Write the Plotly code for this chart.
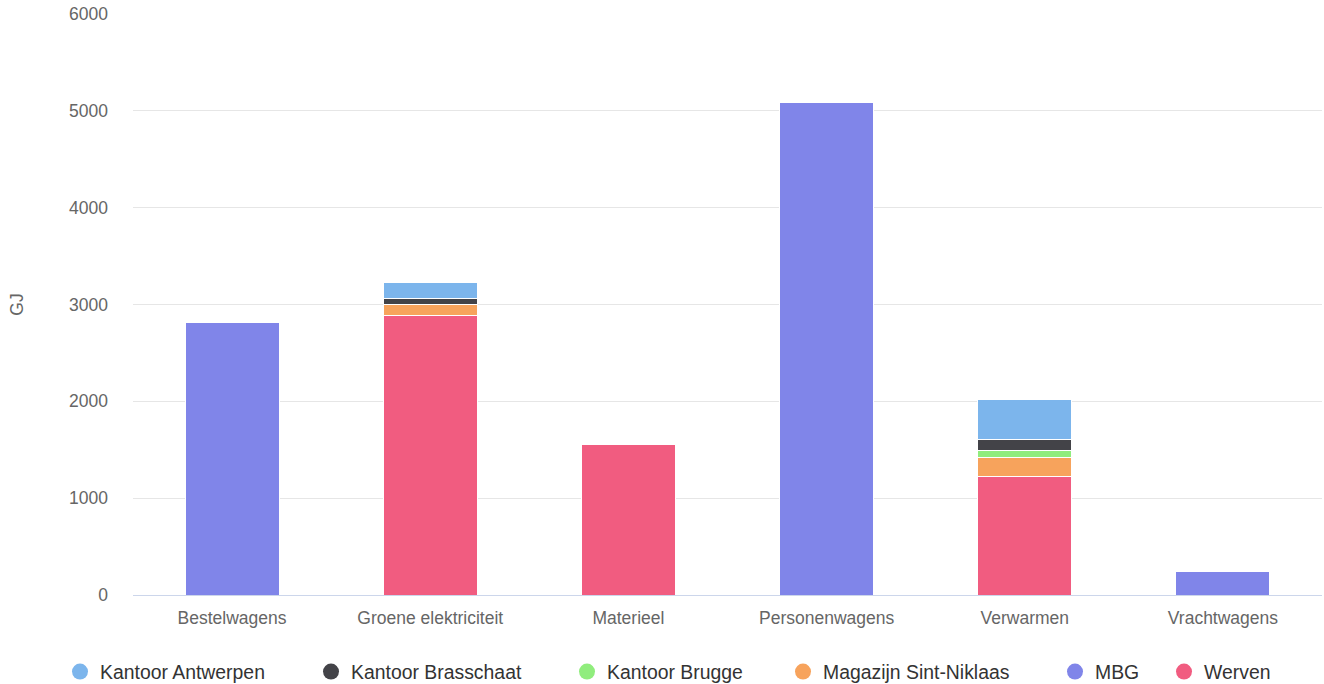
import plotly.graph_objects as go

categories = ["Bestelwagens", "Groene elektriciteit", "Materieel", "Personenwagens", "Verwarmen", "Vrachtwagens"]

series_names = ["Kantoor Antwerpen", "Kantoor Brasschaat", "Kantoor Brugge", "Magazijn Sint-Niklaas", "MBG", "Werven"]
kantoor_antwerpen = [0, 170, 0, 0, 408, 0]
kantoor_brasschaat = [0, 60, 0, 0, 114, 0]
kantoor_brugge = [0, 0, 0, 0, 67, 0]
magazijn_sint_niklaas = [0, 115, 0, 0, 200, 0]
mbg = [2815, 0, 0, 5090, 0, 245]
werven = [0, 2885, 1555, 0, 1225, 0]

colors = ["#7cb5ec", "#434348", "#90ed7d", "#f7a35c", "#8085e9", "#f15c80"]
series_values = [kantoor_antwerpen, kantoor_brasschaat, kantoor_brugge, magazijn_sint_niklaas, mbg, werven]

# legend symbol centres (px) in the reference
legend_px = [80, 331, 587, 803, 1075, 1184]

L, R, T, B = 133, 2, 14, 89
W, H = 1324, 684

fig = go.Figure()
for name, vals, col in reversed(list(zip(series_names, series_values, colors))):
    fig.add_trace(go.Bar(
        x=categories, y=[v if v else None for v in vals], name=name,
        marker=dict(color=col, line=dict(color="#ffffff", width=1)),
        showlegend=False,
    ))

legend_layouts = {}
for i, (name, col) in enumerate(zip(series_names, colors)):
    key = "legend" if i == 0 else f"legend{i+1}"
    fig.add_trace(go.Scatter(
        x=[None], y=[None], mode="markers", name=name,
        marker=dict(symbol="circle", size=16, color=col),
        showlegend=True, legend=key,
    ))
    legend_layouts[key] = dict(
        orientation="h", xref="container", yref="container",
        x=(legend_px[i] - 20) / W, xanchor="left",
        y=1 - 672 / H, yanchor="middle",
        font=dict(size=19.4, color="#333333"), bgcolor="rgba(0,0,0,0)",
        itemwidth=30,
    )

fig.update_layout(
    barmode="stack",
    bargap=0.525,
    width=W, height=H,
    margin=dict(l=L, r=R, t=T, b=B, autoexpand=False),
    paper_bgcolor="#ffffff", plot_bgcolor="#ffffff",
    font=dict(family="Liberation Sans, Arial, sans-serif", size=17.5, color="#666666"),
    showlegend=True,
    xaxis=dict(
        showgrid=False, showline=True, linecolor="#ccd6eb", linewidth=1,
        ticks="", tickfont=dict(size=17.5, color="#666666"),
        ticklabelstandoff=7,
    ),
    yaxis=dict(
        range=[0, 6000], tickvals=[0, 1000, 2000, 3000, 4000, 5000, 6000],
        showgrid=True, gridcolor="#e6e6e6", gridwidth=1,
        zeroline=False, showline=False,
        tickfont=dict(size=17.5, color="#666666"),
        ticklabelstandoff=24,
        title=dict(text="GJ", font=dict(size=17.5, color="#666666"), standoff=40),
    ),
    **legend_layouts,
)

fig.write_html("out.html")
